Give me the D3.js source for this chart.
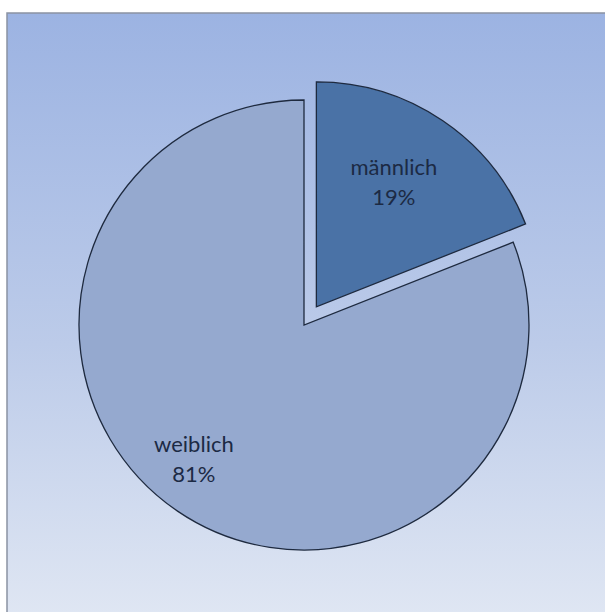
<!DOCTYPE html>
<html>
<head>
<meta charset="utf-8">
<script src="https://cdn.jsdelivr.net/npm/d3@7"></script>
<style>
  html, body { margin: 0; padding: 0; background: #ffffff; }
  svg { display: block; }
</style>
</head>
<body>
<svg id="chart" width="605" height="612"></svg>
<script>
// Gender split
const categories = ["männlich", "weiblich"];
const values = [19, 81];
const sliceColors = ["#4a72a6", "#95a9cf"];
const explode = [22, 0];

const svg = d3.select("#chart");
const W = 605, H = 612;

// Chart area background with a soft vertical gradient
const defs = svg.append("defs");
const grad = defs.append("linearGradient")
  .attr("id", "bg").attr("x1", 0).attr("y1", 0).attr("x2", 0).attr("y2", 1);
grad.append("stop").attr("offset", "0%").attr("stop-color", "#9cb3e2");
grad.append("stop").attr("offset", "55%").attr("stop-color", "#bccbe9");
grad.append("stop").attr("offset", "100%").attr("stop-color", "#dfe6f3");

svg.append("rect")
  .attr("x", 7).attr("y", 13)
  .attr("width", W - 7 + 2).attr("height", H - 13 + 2)
  .attr("fill", "url(#bg)")
  .attr("stroke", "#8a93a3").attr("stroke-width", 1.5);

const cx = 304, cy = 325, R = 225;

const pie = d3.pie().sort(null).value(d => d.value);
const data = categories.map((c, i) => ({ name: c, value: values[i], color: sliceColors[i], offset: explode[i] }));
const arcs = pie(data);

const arc = d3.arc().innerRadius(0).outerRadius(R);

// label placement per slice: radius fraction and a small nudge
const labelRadius = [0.66, 0.76];
const labelNudge = [[-6, -4], [-14, -9]];

const g = svg.append("g").attr("transform", `translate(${cx},${cy})`);

const slices = g.selectAll("g.slice")
  .data(arcs)
  .join("g")
  .attr("class", "slice")
  .attr("transform", d => {
    const mid = (d.startAngle + d.endAngle) / 2;
    const o = d.data.offset;
    return `translate(${o * Math.sin(mid)},${-o * Math.cos(mid)})`;
  });

slices.append("path")
  .attr("d", arc)
  .attr("fill", d => d.data.color)
  .attr("stroke", "#1e2a3f")
  .attr("stroke-width", 1.3)
  .attr("stroke-linejoin", "miter");

const fmt = d => Math.round(d.value / d3.sum(values) * 100) + "%";

slices.each(function(d, i) {
  const r = R * labelRadius[i];
  const la = d3.arc().innerRadius(r).outerRadius(r);
  const [cxl, cyl] = la.centroid(d);
  const lx = cxl + labelNudge[i][0], ly = cyl + labelNudge[i][1];
  const t = d3.select(this).append("text")
    .attr("text-anchor", "middle")
    .attr("font-family", "Lato, 'Open Sans', sans-serif")
    .attr("font-size", 22)
    .attr("fill", "#1c2a44");
  t.append("tspan").attr("x", lx).attr("y", ly - 5).text(d.data.name);
  t.append("tspan").attr("x", lx).attr("y", ly + 25).text(fmt(d));
});
</script>
</body>
</html>
